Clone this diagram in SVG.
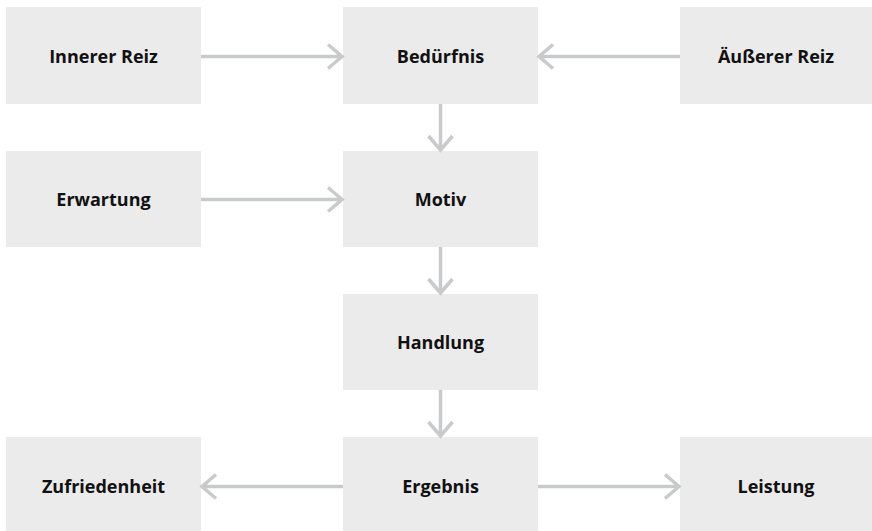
<svg xmlns="http://www.w3.org/2000/svg" width="872" height="531" viewBox="0 0 872 531">
<style>
.box{fill:#ebebeb}
.lbl{font-family:"Open Sans","Noto Sans",sans-serif;font-weight:700;font-size:18px;fill:#111;text-anchor:middle;dominant-baseline:central}
.con{stroke:#c8cacb;stroke-width:3.5;fill:none}
</style>
<defs>
<marker id="ah" viewBox="0 0 20 30" refX="17" refY="15" markerWidth="20" markerHeight="30" markerUnits="userSpaceOnUse" orient="auto">
<path d="M3,3 L17,15 L3,27" fill="none" stroke="#c8cacb" stroke-width="3.5"/>
</marker>
</defs>
<rect width="872" height="531" fill="#fff"/>
<g id="innerer-reiz"><rect class="box" x="6" y="7" width="195" height="97"/><text class="lbl" x="103.5" y="56">Innerer Reiz</text></g>
<g id="beduerfnis"><rect class="box" x="343" y="7" width="195" height="97"/><text class="lbl" x="440.5" y="56">Bedürfnis</text></g>
<g id="aeusserer-reiz"><rect class="box" x="680" y="7" width="195" height="97"/><text class="lbl" x="776" y="56">Äußerer Reiz</text></g>
<g id="erwartung"><rect class="box" x="6" y="151" width="195" height="96"/><text class="lbl" x="103.5" y="199">Erwartung</text></g>
<g id="motiv"><rect class="box" x="343" y="151" width="195" height="96"/><text class="lbl" x="440.5" y="199">Motiv</text></g>
<g id="handlung"><rect class="box" x="343" y="294" width="195" height="96"/><text class="lbl" x="440.5" y="342">Handlung</text></g>
<g id="zufriedenheit"><rect class="box" x="6" y="437" width="195" height="94"/><text class="lbl" x="103.5" y="486">Zufriedenheit</text></g>
<g id="ergebnis"><rect class="box" x="343" y="437" width="195" height="94"/><text class="lbl" x="440.5" y="486">Ergebnis</text></g>
<g id="leistung"><rect class="box" x="680" y="437" width="195" height="94"/><text class="lbl" x="776" y="486">Leistung</text></g>
<g id="connectors">
<line class="con" x1="201" y1="56.5" x2="342" y2="56.5" marker-end="url(#ah)"/>
<line class="con" x1="680" y1="56.5" x2="539" y2="56.5" marker-end="url(#ah)"/>
<line class="con" x1="440.5" y1="104" x2="440.5" y2="150" marker-end="url(#ah)"/>
<line class="con" x1="201" y1="199.5" x2="342" y2="199.5" marker-end="url(#ah)"/>
<line class="con" x1="440.5" y1="247" x2="440.5" y2="293" marker-end="url(#ah)"/>
<line class="con" x1="440.5" y1="390" x2="440.5" y2="436" marker-end="url(#ah)"/>
<line class="con" x1="343" y1="486.5" x2="202" y2="486.5" marker-end="url(#ah)"/>
<line class="con" x1="538" y1="486.5" x2="679" y2="486.5" marker-end="url(#ah)"/>
</g>
</svg>
